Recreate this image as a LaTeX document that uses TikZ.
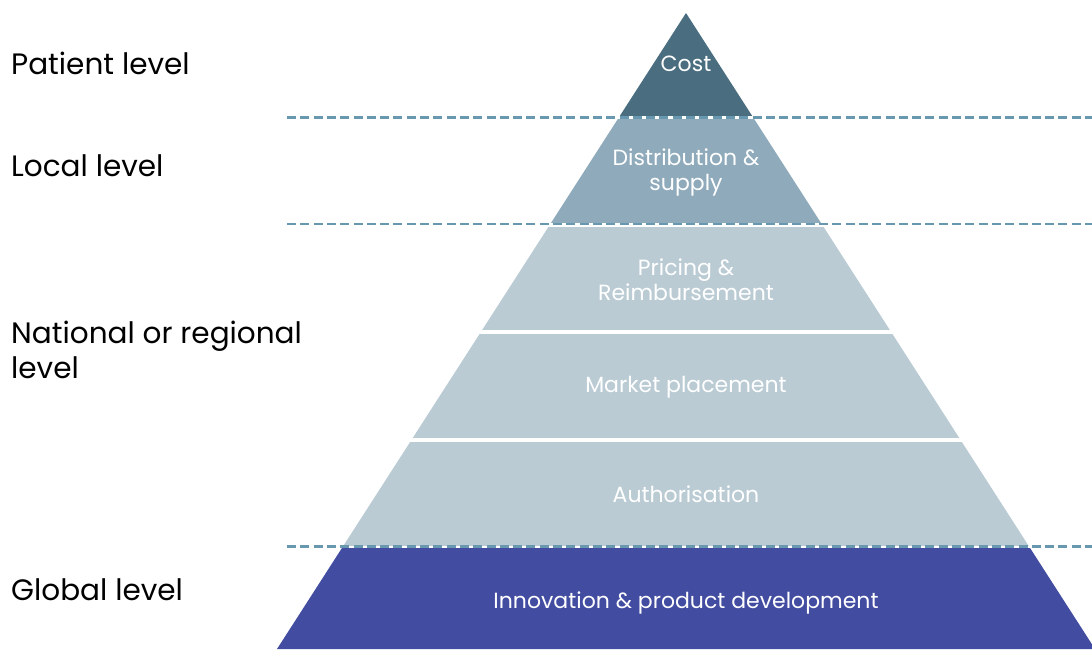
\documentclass[tikz,border=0pt]{standalone}
\usepackage{fontspec}
\setmainfont{Poppins}
\definecolor{costc}{RGB}{74,110,128}
\definecolor{distc}{RGB}{143,170,187}
\definecolor{lightc}{RGB}{186,203,212}
\definecolor{innoc}{RGB}{66,76,160}
\definecolor{dashc}{RGB}{104,152,176}
\tikzset{
  tiertext/.style={text=white, font=\fontsize{22}{25}\selectfont, align=center, inner sep=0pt},
  leveltext/.style={text=black, font=\fontsize{29.5}{35}\selectfont, anchor=west, align=left, inner sep=0pt},
  levelline/.style={draw=dashc, line width=2.2pt, dash pattern=on 9pt off 4.3pt},
}
\begin{document}
\begin{tikzpicture}[x=1pt,y=-1pt]
\useasboundingbox (0,0) rectangle (1092,649);
\begin{scope}
  \clip (686,13) -- (1095,649) -- (277,649) -- cycle;
  \fill[costc]  (0,0) rectangle (1100,115.5);
  \fill[distc]  (0,119) rectangle (1100,223);
  \fill[lightc] (0,227) rectangle (1100,330);
  \fill[lightc] (0,333.5) rectangle (1100,438);
  \fill[lightc] (0,442) rectangle (1100,546);
  \fill[innoc]  (0,548) rectangle (1100,660);
\end{scope}
% dashed level separators
\coordinate (l1a) at (287,117.5); \coordinate (l1b) at (1092,117.5);
\coordinate (l2a) at (287,223.8); \coordinate (l2b) at (1092,223.8);
\coordinate (l3a) at (287,546.5); \coordinate (l3b) at (1092,546.5);
\draw[levelline] (l1a) -- (l1b);
\draw[levelline] (l2a) -- (l2b);
\draw[levelline] (l3a) -- (l3b);
% tier labels
\node[tiertext] (cost) at (686,64) {Cost};
\node[tiertext] (dist) at (686,172) {Distribution \&\\supply};
\node[tiertext] (pric) at (686,280) {Pricing \&\\Reimbursement};
\node[tiertext] (mark) at (686,387) {Market placement};
\node[tiertext] (auth) at (686,494) {Authorisation};
\node[tiertext] (inno) at (686,603) {Innovation \& product development};
% level labels
\node[leveltext] (pat) at (11,63) {Patient level};
\node[leveltext] (loc) at (11,166) {Local level};
\node[leveltext] (nat) at (11,350) {National or regional\\level};
\node[leveltext] (glo) at (11,590) {Global level};
\end{tikzpicture}
\end{document}
